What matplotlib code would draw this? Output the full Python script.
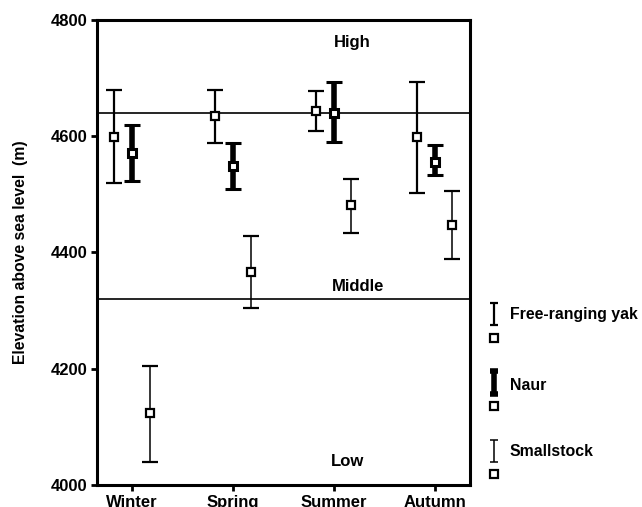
import numpy as np
import matplotlib
matplotlib.use("Agg")
import matplotlib.pyplot as plt

plt.rcParams['font.family'] = ['Liberation Sans', 'DejaVu Sans']
plt.rcParams['font.weight'] = 'bold'

# data (elevation, m)
seasons = ['Winter', 'Spring', 'Summer', 'Autumn']
groups = ['Free-ranging yak', 'Naur', 'Smallstock']

yak_mean = [4598, 4634, 4643, 4598]
yak_low = [4519, 4588, 4609, 4503]
yak_high = [4679, 4679, 4677, 4693]

naur_mean = [4571, 4548, 4640, 4556]
naur_low = [4523, 4510, 4590, 4533]
naur_high = [4619, 4588, 4694, 4585]

small_mean = [4123, 4366, 4482, 4448]
small_low = [4040, 4304, 4434, 4388]
small_high = [4205, 4429, 4527, 4505]

zone_bounds = [4640, 4320]
zone_names = ['High', 'Middle', 'Low']
zone_label_y = [4762, 4341, 4040]

fig = plt.figure(figsize=(6.42, 5.07), dpi=100)
ax = fig.add_axes([0.151, 0.0434, 0.581, 0.9172])

x = np.arange(1, len(seasons) + 1)
offsets = [-0.175, 0.0, 0.175]
styles = [
    dict(elinewidth=1.6, capsize=6, capthick=1.6, ms=6, mew=1.6),
    dict(elinewidth=4.0, capsize=6, capthick=4.0, ms=6, mew=2.2),
    dict(elinewidth=1.1, capsize=5.5, capthick=1.1, ms=6, mew=1.6),
]
series = [(yak_mean, yak_low, yak_high),
          (naur_mean, naur_low, naur_high),
          (small_mean, small_low, small_high)]

for (m, lo, hi), off, st in zip(series, offsets, styles):
    m = np.array(m)
    err = [m - np.array(lo), np.array(hi) - m]
    ax.errorbar(x + off, m, yerr=err, fmt='s', color='black', mfc='white',
                mec='black', ms=st['ms'], mew=st['mew'],
                elinewidth=st['elinewidth'], capsize=st['capsize'],
                capthick=st['capthick'], zorder=3)

for b in zone_bounds:
    ax.axhline(b, color='black', lw=1.2, zorder=1)

zone_x = [3.18, 3.24, 3.14]
for name, zx, zy in zip(zone_names, zone_x, zone_label_y):
    ax.text(zx, zy, name, ha='center', va='center', fontsize=12, fontweight='bold')

ax.set_xlim(0.653, 4.35)
ax.set_ylim(4000, 4800)
ax.set_yticks([4000, 4200, 4400, 4600, 4800])
ax.set_xticks(x)
ax.set_xticklabels(seasons)
ax.tick_params(axis='both', direction='out', width=2, length=4, labelsize=12, pad=3)
for lab in ax.get_xticklabels() + ax.get_yticklabels():
    lab.set_fontweight('bold')
for s in ax.spines.values():
    s.set_linewidth(2.2)
ax.set_ylabel('Elevation above sea level  (m)', fontsize=11.3, fontweight='bold')
ax.yaxis.set_label_coords(-0.185, 0.5)

# legend drawn in pixel space on the right
lg = fig.add_axes([480 / 642, 0, 162 / 642, 1])
lg.set_xlim(480, 642)
lg.set_ylim(507, 0)
lg.axis('off')
leg_bar = [(303, 325), (371, 394), (440, 462)]
leg_sq = [338, 406, 474]
leg_txt = [315, 385, 452]
for (t, bt), sq, ty, name, st in zip(leg_bar, leg_sq, leg_txt, groups, styles):
    lg.errorbar([494], [(t + bt) / 2], yerr=[[(bt - t) / 2], [(bt - t) / 2]],
                fmt='none', ecolor='black', elinewidth=st['elinewidth'],
                capsize=st['capsize'] * 0.5, capthick=st['capthick'])
    lg.plot([494], [sq], 's', color='black', mfc='white', ms=6, mew=1.6)
    lg.text(510, ty, name, ha='left', va='center', fontsize=11.4, fontweight='bold')

fig.savefig('out.png', dpi=100)
